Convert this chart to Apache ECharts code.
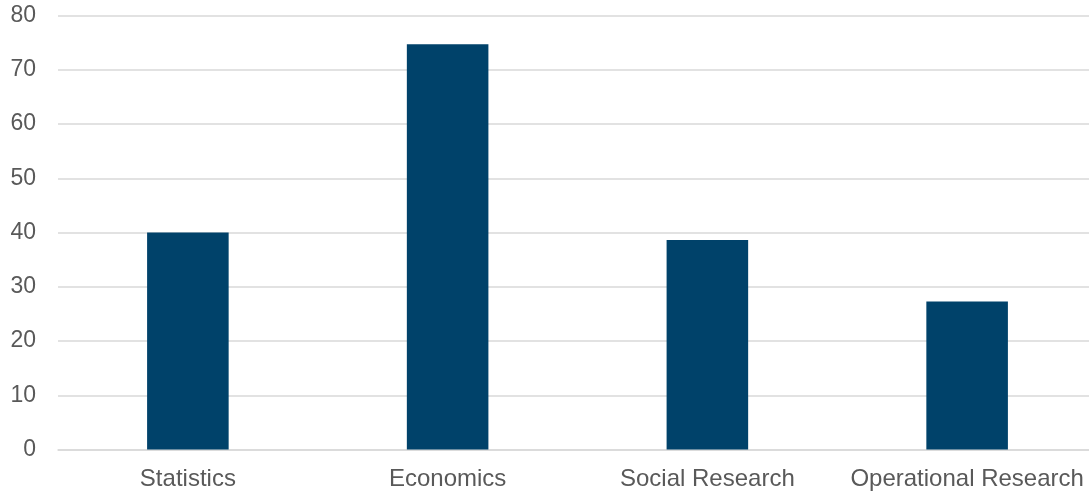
<!DOCTYPE html>
<html>
<head>
<meta charset="utf-8">
<style>
html,body{margin:0;padding:0;background:#fff;}
#chart{width:1089px;height:496px;}
</style>
<script src="https://cdn.jsdelivr.net/npm/echarts@6/dist/echarts.min.js"></script>
</head>
<body>
<div id="chart"></div>
<script>
const categories = ["Statistics", "Economics", "Social Research", "Operational Research"];
const values = [40.0, 74.7, 38.6, 27.3];
const yMin = 0, yMax = 80, yInterval = 10;

const chart = echarts.init(document.getElementById('chart'), null, {renderer: 'canvas'});
chart.setOption({
  animation: false,
  grid: {left: 58, top: 15.5, width: 1039, height: 434, containLabel: false, outerBoundsMode: 'none'},
  xAxis: {
    type: 'category',
    data: categories,
    axisLine: {show: true, lineStyle: {color: '#d9d9d9', width: 1.5}},
    axisTick: {show: false},
    axisLabel: {color: '#595959', fontSize: 24, fontFamily: 'Liberation Sans, Arial, sans-serif', margin: 18, interval: 0}
  },
  yAxis: {
    type: 'value',
    min: yMin, max: yMax, interval: yInterval,
    axisLine: {show: false},
    axisTick: {show: false},
    splitLine: {lineStyle: {color: '#d9d9d9', width: 1.5}},
    axisLabel: {color: '#595959', fontSize: 23, fontFamily: 'Liberation Sans, Arial, sans-serif', margin: 22}
  },
  series: [{
    type: 'bar',
    data: values,
    barWidth: '31.4%',
    itemStyle: {color: '#00426A'}
  }]
});
</script>
</body>
</html>
